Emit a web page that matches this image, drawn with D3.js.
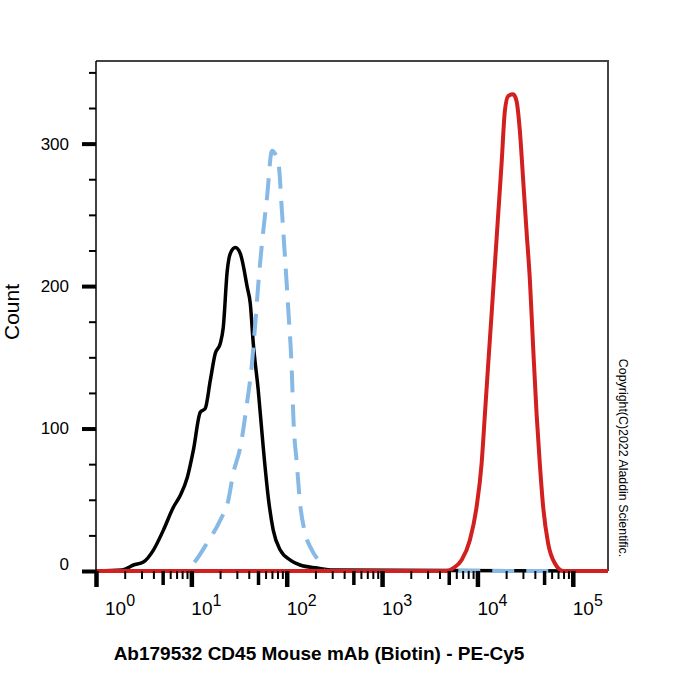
<!DOCTYPE html>
<html>
<head>
<meta charset="utf-8">
<script src="https://cdn.jsdelivr.net/npm/d3@7"></script>
<style>
  body { margin: 0; background: #fff; }
  svg { font-family: Arial, "Liberation Sans", sans-serif; }
</style>
</head>
<body>
<svg id="chart" width="700" height="700"></svg>
<script>
// Histogram series (fluorescence intensity, count)
const blackX = [1, 1.88, 2.47, 3.14, 4.0, 5.09, 6.48, 7.67, 9.08, 10.5, 12.4, 14.0, 15.8, 17.8, 20.1, 21.6, 23.8, 25.6, 28.9, 32.6, 38.6, 41.5, 44.6, 50.3, 56.7, 64.0, 72.2, 85.5, 109, 138, 208, 307, 234000];
const blackY = [0, 0.7, 4.2, 6.3, 14.7, 28.7, 44.8, 53.2, 65.8, 84.8, 111.4, 114.2, 133.8, 152.7, 159.7, 170.9, 210.9, 222.8, 227, 222.8, 199, 187.7, 159.7, 126.8, 86.9, 51.8, 28.7, 14.7, 7.7, 4.2, 2.1, 0.7, 0];

const blueX = [1, 8.5, 10.6, 14.6, 20.1, 24.4, 27.5, 32.6, 38.3, 43.2, 46.8, 50.7, 55.0, 62.1, 70, 82, 89, 96.4, 104.5, 113, 117.8, 127.6, 138, 156, 183.6, 224, 250, 234000];
const blueY = [0, 0, 5.6, 19.6, 35.7, 49.7, 68.6, 86.9, 117.7, 145.7, 173.7, 203.9, 229.8, 262, 295, 285.8, 252.9, 217.9, 180.7, 140.8, 105.8, 75.7, 47.6, 26.6, 14.7, 5.6, 0, 0];

const redX = [1, 4750, 5580, 6830, 8340, 9800, 11060, 11990, 12980, 14080, 15250, 16520, 17900, 19400, 21000, 23700, 25700, 27860, 30200, 32700, 35500, 38400, 41700, 45100, 48900, 55100, 64800, 79300, 234000];
const redY = [0, 0, 2, 7.7, 21.7, 45, 75.4, 110.5, 145.5, 180.5, 215.5, 250.6, 285.6, 323, 333.4, 334.6, 330, 309, 274, 239, 204, 157, 110.5, 75.4, 45, 19.4, 5.4, 0, 0];

const xDecades = [0, 1, 2, 3, 4, 5];
const yMajor = [0, 100, 200, 300];
const yMinor = [25, 50, 75, 125, 150, 175, 225, 250, 275, 325, 350];

const svg = d3.select("#chart");
const plotLeft = 96, plotRight = 608, plotTop = 61, plotBottom = 571;

const x = d3.scaleLog().domain([1, 234000]).range([plotLeft, plotRight]);
const y = d3.scaleLinear().domain([0, 358]).range([plotBottom, plotTop]);

// x tick groups: decades, 5x, the rest
const xMajor = xDecades.map(d => Math.pow(10, d));
const xMid = xDecades.slice(0, 5).map(d => 5 * Math.pow(10, d));
const xMinor = [];
xDecades.slice(0, 5).forEach(d => {
  [2, 3, 4, 6, 7, 8, 9].forEach(m => xMinor.push(m * Math.pow(10, d)));
});

// frame
svg.append("path")
  .attr("d", `M${plotLeft},${plotTop}H${plotRight}V${plotBottom}`)
  .attr("fill", "none")
  .attr("stroke", "#444")
  .attr("stroke-width", 2);

// curves
const line = d3.line().x(d => x(d[0])).y(d => y(d[1])).curve(d3.curveMonotoneX);

svg.append("path")
  .datum(blackX.map((v, i) => [v, blackY[i]]))
  .attr("d", line)
  .attr("fill", "none")
  .attr("stroke", "#000")
  .attr("stroke-width", 3.5)
  .attr("stroke-linejoin", "round");

svg.append("path")
  .datum(blueX.map((v, i) => [v, blueY[i]]))
  .attr("d", line)
  .attr("fill", "none")
  .attr("stroke", "#86b9e6")
  .attr("stroke-width", 4)
  .attr("stroke-dasharray", "22 12");

svg.append("path")
  .datum(redX.map((v, i) => [v, redY[i]]))
  .attr("d", line)
  .attr("fill", "none")
  .attr("stroke", "#d21f1f")
  .attr("stroke-width", 4)
  .attr("stroke-linejoin", "round");

// x axis ticks
function xTicks(values, size, width) {
  const g = svg.append("g")
    .attr("transform", `translate(0,${plotBottom})`)
    .call(d3.axisBottom(x).tickValues(values).tickSize(size).tickFormat(""));
  g.select(".domain").remove();
  g.selectAll(".tick line").attr("stroke", "#000").attr("stroke-width", width);
}
xTicks(xMinor, 8, 2);
xTicks(xMid, 14, 3.5);
xTicks(xMajor, 16, 4.5);

// x labels: 10 with superscript exponent
const xLabels = svg.append("g");
xDecades.forEach(d => {
  const t = xLabels.append("text")
    .attr("x", x(Math.pow(10, d)) + (d === 0 ? 9 : 0))
    .attr("y", 615)
    .attr("font-size", 19)
    .attr("fill", "#000");
  t.append("tspan").text("10");
  t.append("tspan").attr("dy", -9).attr("font-size", 16).text(d);
});

// y axis
const yAxisMinor = svg.append("g")
  .attr("transform", `translate(${plotLeft},0)`)
  .call(d3.axisLeft(y).tickValues(yMinor).tickSize(7).tickFormat(""));
yAxisMinor.select(".domain").remove();
yAxisMinor.selectAll(".tick line").attr("stroke", "#000").attr("stroke-width", 2);

const yAxis = svg.append("g")
  .attr("transform", `translate(${plotLeft},0)`)
  .call(d3.axisLeft(y).tickValues(yMajor).tickSize(14).tickPadding(13));
yAxis.select(".domain").attr("stroke", "#000").attr("stroke-width", 1.5)
  .attr("d", `M0,${plotTop}V${plotBottom}`);
yAxis.selectAll(".tick line").attr("stroke", "#000").attr("stroke-width", 4);
yAxis.selectAll(".tick text")
  .attr("font-size", 17)
  .attr("font-family", "Arial, 'Liberation Sans', sans-serif")
  .attr("fill", "#000")
  .attr("dy", d => (d === 0 ? "-0.1em" : "0.32em"));

// axis titles
svg.append("text")
  .attr("transform", "translate(19,312) rotate(-90)")
  .attr("text-anchor", "middle")
  .attr("font-size", 21)
  .text("Count");

svg.append("text")
  .attr("x", 319)
  .attr("y", 660)
  .attr("text-anchor", "middle")
  .attr("font-size", 19)
  .attr("font-weight", "bold")
  .text("Ab179532 CD45 Mouse mAb (Biotin) - PE-Cy5");

svg.append("text")
  .attr("transform", "translate(619,458) rotate(90)")
  .attr("text-anchor", "middle")
  .attr("font-size", 12.4)
  .text("Copyright(C)2022 Aladdin Scientific.");
</script>
</body>
</html>
